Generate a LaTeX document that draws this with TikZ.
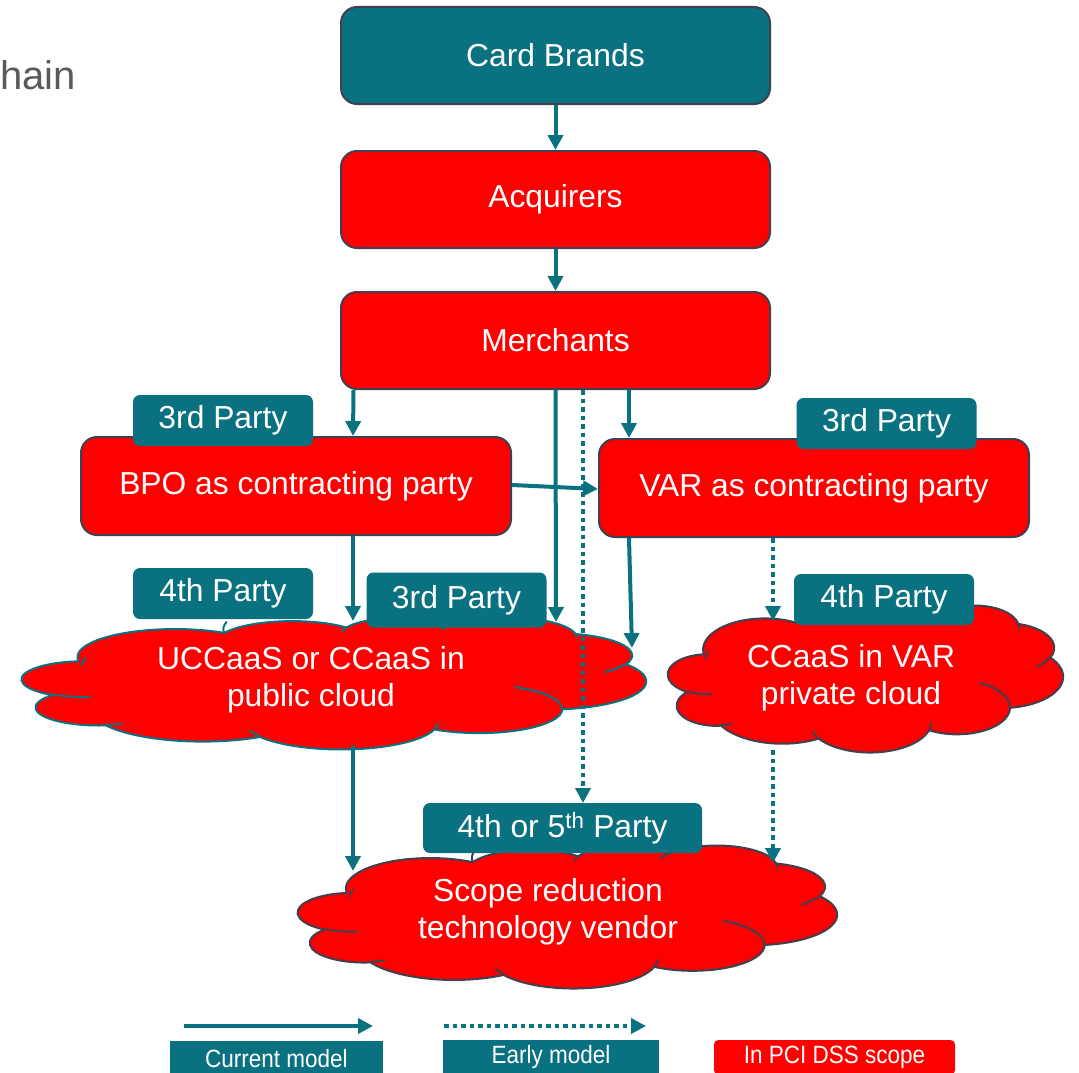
\documentclass[tikz,border=0pt]{standalone}
\usepackage{fontspec}
\setmainfont{Liberation Sans}
\usetikzlibrary{arrows.meta}
\definecolor{tealc}{RGB}{10,113,128}
\definecolor{redc}{RGB}{255,0,0}
\definecolor{edgec}{RGB}{64,64,80}
\definecolor{grayt}{RGB}{90,90,90}
% arc given by visual start angle and sweep (OOXML style)
\newcommand\varc[4]{\pgfextra{%
  \pgfmathsetmacro\mytA{atan2((#1)*sin(#3),(#2)*cos(#3))}%
  \pgfmathsetmacro\mytBr{atan2((#1)*sin((#3)+(#4)),(#2)*cos((#3)+(#4)))}%
  \pgfmathsetmacro\mytB{\mytA+mod(\mytBr-\mytA+720,360)}}
  arc[x radius=#1, y radius=#2, start angle=\mytA, end angle=\mytB]}
\newcommand\pptcloud[5]{%
  \pgfmathsetmacro\mycsx{#3/432}\pgfmathsetmacro\mycsy{#4/432}%
  \begin{scope}[shift={(#1,#2)}, x=\mycsx pt, y=-\mycsy pt]
  \path[cloudfill, #5] (39.00,143.70)
    \varc{67.53}{91.90}{-190.4875}{123.7805}
    \varc{53.33}{72.67}{-144.1024}{89.9452}
    \varc{43.65}{59.45}{-145.8079}{99.7230}
    \varc{48.57}{65.95}{-130.9861}{117.2417}
    \varc{53.33}{72.73}{-78.7089}{109.0269}
    \varc{67.75}{92.20}{-46.2673}{130.2690}
    \varc{57.85}{78.67}{0.6250}{114.0333}
    \varc{67.52}{92.15}{22.4516}{115.1726}
    \varc{77.20}{105.43}{66.2426}{75.7110}
    \varc{43.60}{59.18}{-274.9421}{146.7356}
    \varc{43.45}{59.45}{-246.8285}{152.5189} -- cycle;
  \path[cloudline, #5]
    (46.93,261.77) \varc{43.45}{59.45}{86.742}{26.4295}
    (69.28,348.99) \varc{43.60}{59.18}{73.6105}{11.4475}
    (164.78,390.90) \varc{67.52}{92.15}{137.6242}{14.0811}
    (288.27,347.51) \varc{67.52}{92.15}{6.4533}{15.9984}
    (341.29,229.54) \varc{57.85}{78.67}{-70.2924}{70.9174}
    (417.98,153.54) \varc{53.33}{72.73}{30.3180}{27.7515}
    (383.24,54.26) \varc{48.57}{65.95}{-13.7443}{14.8589}
    (290.78,39.52) \varc{48.57}{65.95}{-149.1815}{18.1954}
    (221.41,47.20) \varc{43.65}{59.45}{-163.4943}{17.6864}
    (140.00,51.92) \varc{67.53}{91.90}{-190.4875}{30.1167}
    (41.27,157.89) \varc{67.53}{91.90}{181.7648}{20.1386};
  \end{scope}}
\begin{document}
\begin{tikzpicture}[x=1pt,y=-1pt,
  bigbox/.style={draw=edgec, line width=2pt, rounded corners=16pt, minimum width=429pt, minimum height=97pt, text=white, font=\fontsize{31.8}{38}\selectfont, inner sep=0pt},
  tagbox/.style={fill=tealc, rounded corners=7pt, minimum width=180pt, minimum height=51pt, text=white, font=\fontsize{31.8}{38}\selectfont, inner sep=0pt},
  cloudfill/.style={fill=redc, line width=2pt, line join=round},
  cloudline/.style={line width=2pt, line cap=round},
  ctext/.style={text=white, align=center, font=\fontsize{31.8}{37}\selectfont},
  arr/.style={draw=tealc, line width=4pt, -{Triangle[length=15pt,width=15pt]}},
  darr/.style={arr, dash pattern=on 4.5pt off 4pt},
  legbox/.style={minimum height=34pt, inner sep=0pt, anchor=north, text=white, font=\fontsize{25}{30}\selectfont}
]
\useasboundingbox (0,0) rectangle (1079,1073);
\node[anchor=west, text=grayt, font=\fontsize{40}{48}\selectfont, inner sep=0pt] (title) at (0,75) {hain};

% main boxes
\node[bigbox, fill=tealc] (cb) at (555.5,55.5) {Card Brands};
\node[bigbox, fill=redc] (acq) at (555.5,199.5) {Acquirers};
\node[bigbox, fill=redc] (mer) at (555.5,340.5) {Merchants};
\node[bigbox, fill=redc, minimum width=430pt, minimum height=98pt] (bpo) at (296,486) {BPO as contracting party};
\node[bigbox, fill=redc, minimum width=430pt, minimum height=98pt] (var) at (814,488) {VAR as contracting party};

% clouds
\pptcloud{22}{617}{624}{132}{draw=tealc}
\node[ctext] (ucct) at (311,680) {UCCaaS or CCaaS in\\public cloud};
\pptcloud{668}{605}{395}{147}{draw=edgec}
\node[ctext] (ccat) at (851,678) {CCaaS in VAR\\private cloud};
\pptcloud{298}{845}{539}{143}{draw=edgec}
\node[ctext] (scpt) at (548,912) {Scope reduction\\technology vendor};

% tags
\node[tagbox] (t3l) at (223,420.5) {3rd Party};
\node[tagbox] (t3r) at (886.5,423.5) {3rd Party};
\node[tagbox] (t4l) at (223,593.5) {4th Party};
\node[tagbox, minimum height=55pt] (t3m) at (456.5,600) {3rd Party};
\node[tagbox] (t4r) at (884,599.5) {4th Party};
\node[tagbox, minimum width=279pt, minimum height=50pt] (t45) at (562.5,828) {4th or 5\textsuperscript{th} Party};

% arrow end coordinates on clouds
\coordinate (uccA) at (353,621);
\coordinate (uccB) at (556,622);
\coordinate (uccC) at (632,648);
\coordinate (uccD) at (353,745);
\coordinate (ccaA) at (773,621);
\coordinate (ccaB) at (773,750);
\coordinate (scpA) at (353,871);
\coordinate (scpB) at (773,863);
\coordinate (t45top) at (583,803);

% connectors
\draw[arr] (cb.south) -- (acq.north);
\draw[arr] (acq.south) -- (mer.north);
\draw[arr] ([xshift=-202pt]mer.south) -- ([xshift=57pt]bpo.north);
\draw[arr] (mer.south) -- (uccB);
\draw[darr] ([xshift=27.5pt]mer.south) -- (t45top);
\draw[arr] ([xshift=73.5pt]mer.south) -- ([xshift=-185pt]var.north);
\draw[arr] ([yshift=1pt]bpo.east) -- ([yshift=-1pt]var.west);
\draw[arr] ([xshift=57pt]bpo.south) -- (uccA);
\draw[arr] ([xshift=-185pt]var.south) -- (uccC);
\draw[darr] ([xshift=-41pt]var.south) -- (ccaA);
\draw[arr] (uccD) -- (scpA);
\draw[darr] (ccaB) -- (scpB);

% legend
\coordinate (l1a) at (184,1026);
\coordinate (l1b) at (373,1026);
\coordinate (l2a) at (444,1026);
\coordinate (l2b) at (646,1026);
\draw[arr] (l1a) -- (l1b);
\draw[darr] (l2a) -- (l2b);
\node[legbox, fill=tealc, minimum width=213pt] (lcur) at (276.5,1041) {\scalebox{0.9}[1]{Current model}};
\node[legbox, fill=tealc, minimum width=216pt] (lear) at (551,1040) {\scalebox{0.9}[1]{Early model}};
\node[legbox, fill=redc, rounded corners=4pt, minimum width=241pt] (lpci) at (834.5,1040) {\scalebox{0.9}[1]{In PCI DSS scope}};
\end{tikzpicture}
\end{document}
